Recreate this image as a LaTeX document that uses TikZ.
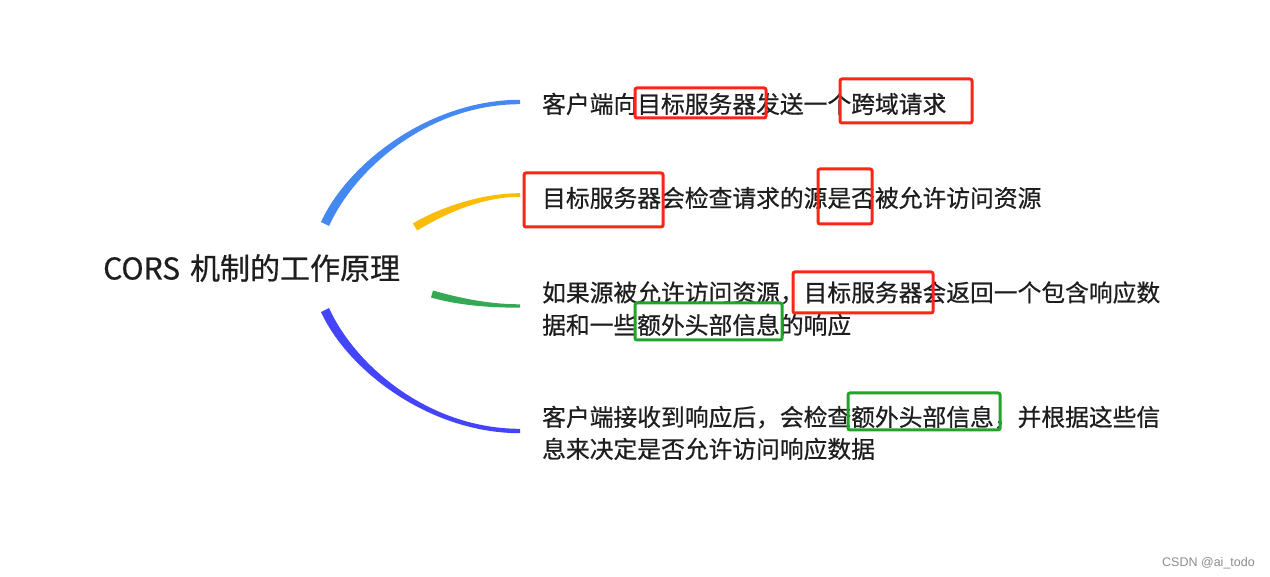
\documentclass[tikz,border=0pt]{standalone}
\usepackage{fontspec}
\setmainfont{Noto Sans CJK SC}
\newfontfamily\medfont{Noto Sans CJK SC}[FakeBold=0.6]
\newfontfamily\wmfont{Liberation Sans}
\definecolor{textc}{HTML}{1E1E1E}
\definecolor{cblue}{HTML}{4488F2}
\definecolor{cyellow}{HTML}{FBBC05}
\definecolor{cgreen}{HTML}{34A853}
\definecolor{cindigo}{HTML}{4444FA}
\definecolor{boxred}{HTML}{FF2418}
\definecolor{boxgreen}{HTML}{22A32A}
\tikzset{
  txt/.style={anchor=base west, inner sep=0pt, text=textc, font=\medfont\fontsize{23.77}{28}\selectfont},
  title/.style={anchor=base west, inner sep=0pt, text=textc, font=\medfont\fontsize{30}{34}\selectfont},
  redbox/.style={draw=boxred, line width=3pt, rounded corners=2pt},
  greenbox/.style={draw=boxgreen, line width=3pt, rounded corners=2pt},
}
\begin{document}
\begin{tikzpicture}[x=1pt,y=-1pt]
\useasboundingbox[fill=white] (0,0) rectangle (1270,577);

% branches (tapered)
\fill[cblue] (329,226) .. controls (356,167) and (430,104.2) .. (520,104.2)
  -- (520,99.8) .. controls (430,99.8) and (348,163) .. (321,222) -- cycle;
\fill[cyellow] (417.2,230.5) .. controls (442,215.5) and (480,196.8) .. (520,196.8)
  -- (520,193.2) .. controls (480,193.2) and (438,208.5) .. (412.8,223.5) -- cycle;
\fill[cgreen] (431,297.5) .. controls (459,305.5) and (490,307.7) .. (520,307.7)
  -- (520,304.3) .. controls (490,304.3) and (461,298.5) .. (433,290.5) -- cycle;
\fill[cindigo] (321,312) .. controls (348,371) and (430,433.2) .. (520,433.2)
  -- (520,428.8) .. controls (430,428.8) and (356,367) .. (329,308) -- cycle;

% title
\node[title] (root) at (103,279.5) {CORS\hspace{10pt}机制的工作原理};

% texts
\node[txt] (t1) at (542,113) {客户端向目标服务器发送一个跨域请求};
\node[txt] (t2) at (542,207) {目标服务器会检查请求的源是否被允许访问资源};
\node[txt] (t3a) at (542,301.5) {如果源被允许访问资源，目标服务器会返回一个包含响应数};
\node[txt] (t3b) at (542,334) {据和一些额外头部信息的响应};
\node[txt] (t4a) at (542,426) {客户端接收到响应后，会检查额外头部信息，并根据这些信};
\node[txt] (t4b) at (542,458) {息来决定是否允许访问响应数据};

% highlight boxes
\draw[redbox] (635,88) rectangle (766,118);
\draw[redbox] (840,79) rectangle (972,123);
\draw[redbox] (524,173) rectangle (663,227);
\draw[redbox] (818,169) rectangle (872,224);
\draw[redbox] (793,272) rectangle (933,313);
\draw[greenbox] (635,303) rectangle (782,340);
\draw[greenbox] (848,393) rectangle (1000,430);

% watermark
\node[anchor=base east, inner sep=0pt, text=black!45, font=\wmfont\fontsize{12.5}{14}\selectfont] (wm) at (1255,566) {CSDN @ai\_todo};
\end{tikzpicture}
\end{document}
